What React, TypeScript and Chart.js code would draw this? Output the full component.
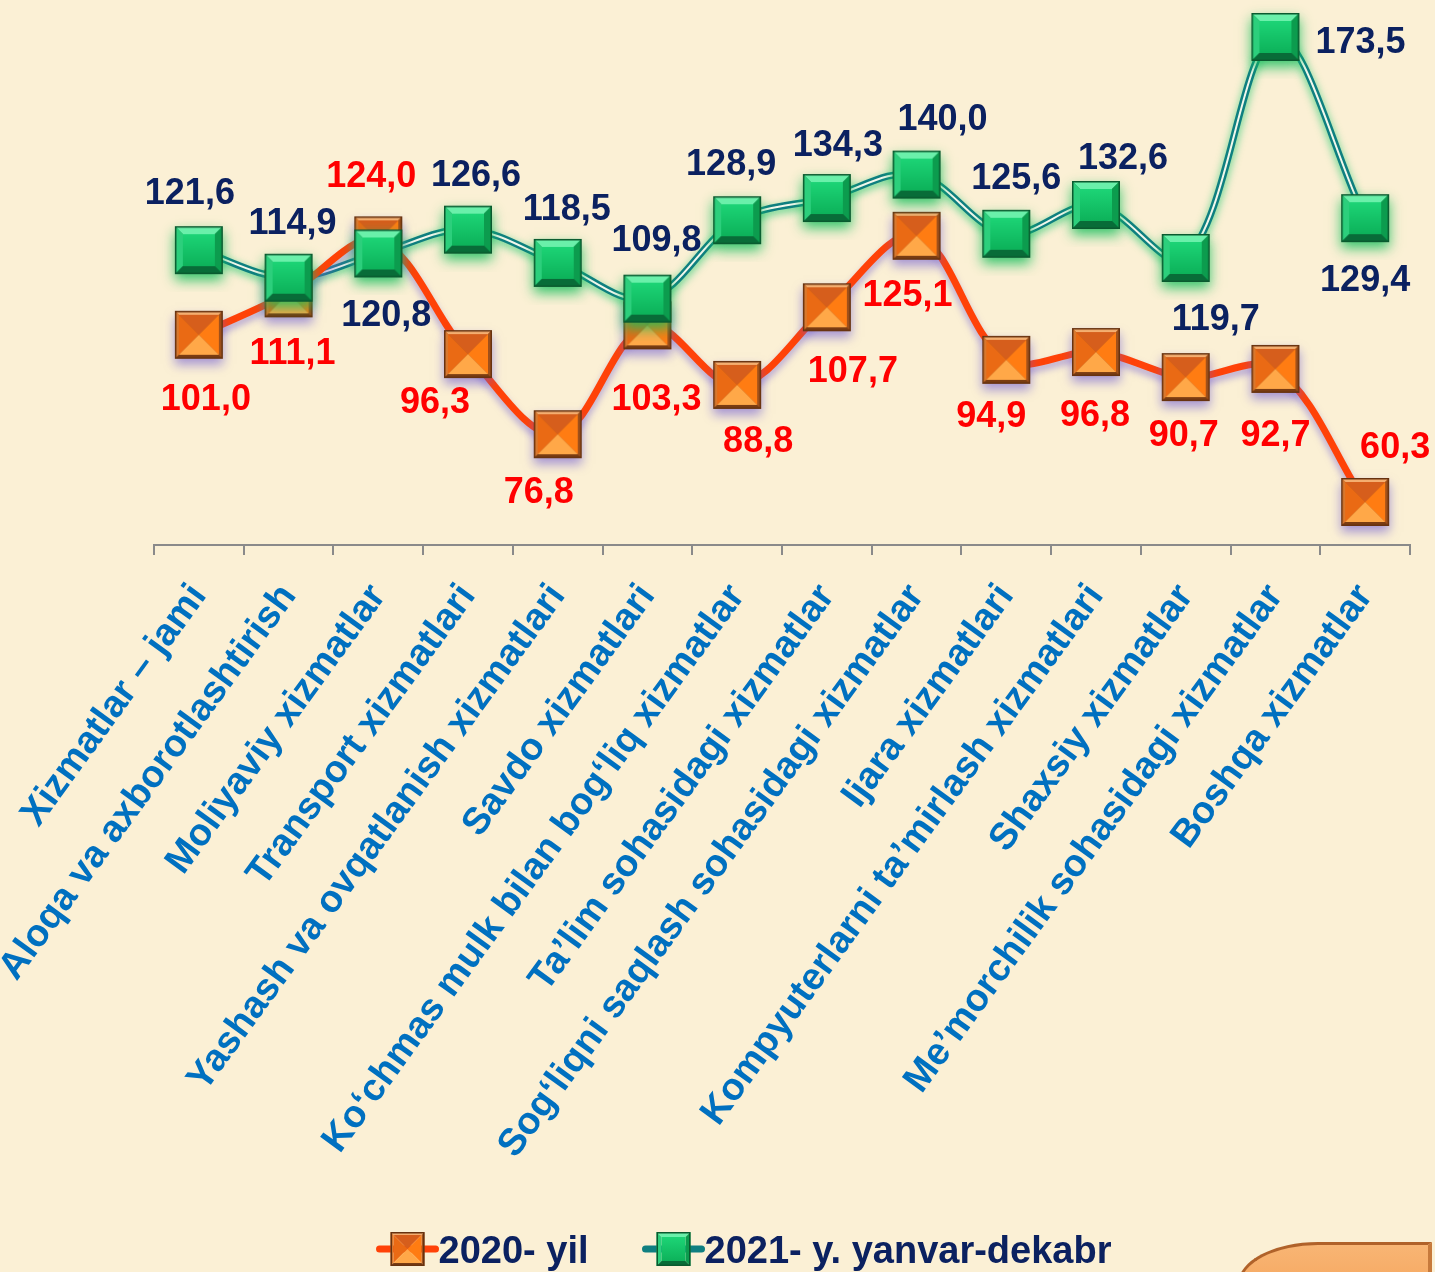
import React, { useEffect, useRef } from "react";
import { Chart, registerables } from "chart.js";
Chart.register(...registerables);

// ---------------- DATA ----------------
const categories = [
  "Xizmatlar – jami",
  "Aloqa va axborotlashtirish",
  "Moliyaviy xizmatlar",
  "Transport xizmatlari",
  "Yashash va ovqatlanish xizmatlari",
  "Savdo xizmatlari",
  "Ko‘chmas mulk bilan bog‘liq xizmatlar",
  "Ta’lim sohasidagi xizmatlar",
  "Sog‘liqni saqlash sohasidagi xizmatlar",
  "Ijara xizmatlari",
  "Kompyuterlarni ta’mirlash xizmatlari",
  "Shaxsiy xizmatlar",
  "Me’morchilik sohasidagi xizmatlar",
  "Boshqa xizmatlar",
];
const values2020 = [101.0, 111.1, 124.0, 96.3, 76.8, 103.3, 88.8, 107.7, 125.1, 94.9, 96.8, 90.7, 92.7, 60.3];
const values2021 = [121.6, 114.9, 120.8, 126.6, 118.5, 109.8, 128.9, 134.3, 140.0, 125.6, 132.6, 119.7, 173.5, 129.4];
const seriesNames = ["2020- yil", "2021- y. yanvar-dekabr"];

// label placement (style): offset of value label centre from the marker centre
const labelOffset2020: [number, number][] = [
  [7, 62], [4, 58], [-7, -66], [-33, 46], [-19, 56], [9, 72], [21, 54],
  [26, 62], [-9, 57], [-15, 54], [-1, 61], [-2, 56], [0, 64], [30, -57],
];
const labelOffset2021: [number, number][] = [
  [-9, -59], [4, -57], [8, 60], [8, -57], [9, -56], [9, -61], [-6, -58],
  [11, -55], [26, -57], [10, -58], [27, -49], [30, 59], [85, 3], [0, 60],
];

const FONT = "'Liberation Sans', Arial, Helvetica, sans-serif";
const BG = "#FBF0D5";
const NAVY = "#0B2160";
const RED = "#FF0000";
const BLUE = "#0070C0";
const ORANGE_LINE = "#FF4208";
const TEAL = "#0F7F80";

const fmt = (v: number) => v.toFixed(1).replace(".", ",");

type Pt = [number, number];

function poly(g: CanvasRenderingContext2D, ox: number, oy: number, pts: Pt[], col: string | CanvasGradient) {
  g.beginPath();
  g.moveTo(ox + pts[0][0], oy + pts[0][1]);
  for (let i = 1; i < pts.length; i++) g.lineTo(ox + pts[i][0], oy + pts[i][1]);
  g.closePath();
  g.fillStyle = col;
  g.fill();
}

function drawGreenSquare(g: CanvasRenderingContext2D, x0: number, y0: number, S: number, glow: boolean) {
  if (glow) {
    g.save();
    g.shadowColor = "rgba(20,190,90,0.85)";
    g.shadowBlur = 12;
    g.shadowOffsetY = 6;
    g.fillStyle = "#0B8A45";
    g.fillRect(x0, y0, S, S);
    g.restore();
  }
  const b = Math.round(S * 0.16);
  poly(g, x0, y0, [[0, 0], [S, 0], [S - b, b], [b, b]], "#6AF0AA");
  poly(g, x0, y0, [[0, 0], [b, b], [b, S - b], [0, S]], "#2CCF7C");
  poly(g, x0, y0, [[S, 0], [S, S], [S - b, S - b], [S - b, b]], "#0C9C4E");
  poly(g, x0, y0, [[0, S], [S, S], [S - b, S - b], [b, S - b]], "#086C38");
  const gr = g.createLinearGradient(0, y0 + b, 0, y0 + S - b);
  gr.addColorStop(0, "#1DD476");
  gr.addColorStop(1, "#0DB25A");
  g.fillStyle = gr;
  g.fillRect(x0 + b, y0 + b, S - 2 * b, S - 2 * b);
  g.strokeStyle = "#0A5A2F";
  g.lineWidth = 1.5;
  g.strokeRect(x0 + 0.75, y0 + 0.75, S - 1.5, S - 1.5);
}

function drawOrangeSquare(g: CanvasRenderingContext2D, x0: number, y0: number, S: number, glow: boolean) {
  if (glow) {
    g.save();
    g.shadowColor = "rgba(110,90,210,0.6)";
    g.shadowBlur = 10;
    g.shadowOffsetY = 6;
    g.fillStyle = "#B0561A";
    g.fillRect(x0, y0, S, S);
    g.restore();
  }
  const b = Math.max(2, Math.round(S * 0.09));
  poly(g, x0, y0, [[0, 0], [S, 0], [S - b, b], [b, b]], "#F4AE70");
  poly(g, x0, y0, [[0, 0], [b, b], [b, S - b], [0, S]], "#D8782E");
  poly(g, x0, y0, [[S, 0], [S, S], [S - b, S - b], [S - b, b]], "#A0501A");
  poly(g, x0, y0, [[0, S], [S, S], [S - b, S - b], [b, S - b]], "#7A3C12");
  const c = S / 2;
  poly(g, x0, y0, [[b, b], [S - b, b], [c, c]], "#D65E1C");
  poly(g, x0, y0, [[b, b], [c, c], [b, S - b]], "#EA6A14");
  poly(g, x0, y0, [[S - b, b], [S - b, S - b], [c, c]], "#FF7C12");
  poly(g, x0, y0, [[b, S - b], [c, c], [S - b, S - b]], "#FFA848");
  g.strokeStyle = "#673210";
  g.lineWidth = 1.5;
  g.strokeRect(x0 + 0.75, y0 + 0.75, S - 1.5, S - 1.5);
}

function makeMarker(kind: "green" | "orange", S: number) {
  const pad = 18;
  const c = document.createElement("canvas");
  c.width = S + pad * 2;
  c.height = S + pad * 2;
  const g = c.getContext("2d")!;
  if (kind === "green") drawGreenSquare(g, pad, pad, S, true);
  else drawOrangeSquare(g, pad, pad, S, true);
  return c;
}

export default function App() {
  const ref = useRef<HTMLCanvasElement | null>(null);

  useEffect(() => {
    const canvas = ref.current;
    if (!canvas) return;
    const greenMarker = makeMarker("green", 48);
    const orangeMarker = makeMarker("orange", 48);

    const effects: Record<string, { color: string; blur: number; dy: number }> = {
      tealOuter: { color: "rgba(30,200,110,0.75)", blur: 9, dy: 3 },
      orangeLine: { color: "rgba(120,100,210,0.55)", blur: 7, dy: 5 },
    };

    const shadowPlugin = {
      id: "shadowPlugin",
      beforeDatasetDraw(chart: any, args: any) {
        const key = chart.data.datasets[args.index].fxKey;
        const e = key && effects[key];
        const ctx = chart.ctx;
        ctx.save();
        if (e) {
          ctx.shadowColor = e.color;
          ctx.shadowBlur = e.blur;
          ctx.shadowOffsetY = e.dy;
        }
      },
      afterDatasetDraw(chart: any) {
        chart.ctx.restore();
      },
    };

    const labelPlugin = {
      id: "valueLabels",
      afterDatasetsDraw(chart: any) {
        const ctx = chart.ctx;
        const fs = 36;
        ctx.save();
        ctx.font = `bold ${fs}px ${FONT}`;
        ctx.textAlign = "center";
        ctx.textBaseline = "alphabetic";
        chart.data.datasets.forEach((ds: any, di: number) => {
          if (!ds.labelKind) return;
          const meta = chart.getDatasetMeta(di);
          const offs = ds.labelKind === "2020" ? labelOffset2020 : labelOffset2021;
          ctx.fillStyle = ds.labelKind === "2020" ? RED : NAVY;
          meta.data.forEach((pt: any, i: number) => {
            const [dx, dy] = offs[i];
            ctx.fillText(fmt(ds.data[i]), pt.x + dx, pt.y + dy + fs * 0.358);
          });
        });
        ctx.restore();
      },
    };

    const legendPlugin = {
      id: "customLegend",
      afterDraw(chart: any) {
        const ctx = chart.ctx;
        const fs = 38;
        ctx.save();
        ctx.font = `bold ${fs}px ${FONT}`;
        const iconW = 62;
        const gap = 54;
        const w1 = ctx.measureText(seriesNames[0]).width;
        const w2 = ctx.measureText(seriesNames[1]).width;
        const total = iconW + w1 + gap + iconW + w2;
        const cx = 744;
        const cy = 1249;
        let x = cx - total / 2;
        const drawItem = (kind: "orange" | "green", text: string, tw: number) => {
          ctx.lineCap = "round";
          ctx.strokeStyle = kind === "orange" ? ORANGE_LINE : TEAL;
          ctx.lineWidth = 7;
          ctx.beginPath();
          ctx.moveTo(x + 3, cy);
          ctx.lineTo(x + iconW - 3, cy);
          ctx.stroke();
          const S = 34;
          const mx = x + iconW / 2 - S / 2;
          const my = cy - S / 2;
          if (kind === "orange") drawOrangeSquare(ctx, mx, my, S, false);
          else drawGreenSquare(ctx, mx, my, S, false);
          ctx.fillStyle = NAVY;
          ctx.textAlign = "left";
          ctx.textBaseline = "alphabetic";
          ctx.fillText(text, x + iconW, cy + fs * 0.358);
          x += iconW + tw;
        };
        drawItem("orange", seriesNames[0], w1);
        x += gap;
        drawItem("green", seriesNames[1], w2);
        ctx.restore();
      },
    };

    const chart = new Chart(canvas, {
      type: "line",
      data: {
        labels: categories,
        datasets: [
          {
            label: seriesNames[1] + " markers",
            data: values2021,
            showLine: false,
            pointStyle: greenMarker as any,
            pointRadius: 24,
            pointHoverRadius: 24,
            order: 0,
            clip: false,
            labelKind: "2021",
          } as any,
          {
            label: seriesNames[0] + " markers",
            data: values2020,
            showLine: false,
            pointStyle: orangeMarker as any,
            pointRadius: 24,
            pointHoverRadius: 24,
            order: 1,
            clip: false,
            labelKind: "2020",
          } as any,
          {
            label: seriesNames[0],
            data: values2020,
            borderColor: ORANGE_LINE,
            borderWidth: 7,
            tension: 0.35,
            pointRadius: 0,
            order: 2,
            clip: false,
            fxKey: "orangeLine",
            borderCapStyle: "round",
          } as any,
          {
            label: seriesNames[1] + " inner",
            data: values2021,
            borderColor: "#F2F8EC",
            borderWidth: 2,
            tension: 0.35,
            pointRadius: 0,
            order: 3,
            clip: false,
          } as any,
          {
            label: seriesNames[1],
            data: values2021,
            borderColor: TEAL,
            borderWidth: 7,
            tension: 0.35,
            pointRadius: 0,
            order: 4,
            clip: false,
            fxKey: "tealOuter",
          } as any,
        ],
      },
      options: {
        responsive: false,
        animation: false,
        events: [],
        layout: { autoPadding: false, padding: { left: 154, right: 25, top: 10, bottom: 0 } },
        plugins: {
          legend: { display: false },
          tooltip: { enabled: false },
          title: { display: false },
        },
        scales: {
          x: {
            type: "category",
            offset: true,
            grid: {
              offset: true,
              drawOnChartArea: false,
              drawTicks: true,
              tickLength: 10,
              color: "#8A8A8A",
              lineWidth: 2,
            },
            border: { display: true, color: "#8A8A8A", width: 2 },
            ticks: {
              autoSkip: false,
              maxRotation: 54,
              minRotation: 54,
              padding: 21,
              color: BLUE,
              font: { family: FONT, size: 38, weight: "bold" },
            },
            afterFit(scale: any) {
              scale.height = 1272 - 545;
            },
          },
          y: {
            display: false,
            min: 49.83,
            max: 180.07,
          },
        },
      } as any,
      plugins: [shadowPlugin, labelPlugin, legendPlugin],
    });
    return () => chart.destroy();
  }, []);

  return (
    <div
      style={{
        position: "absolute",
        left: 0,
        top: 0,
        width: 1435,
        height: 1272,
        overflow: "hidden",
        background: BG,
      }}
    >
      <div
        style={{
          position: "absolute",
          left: 1238,
          top: 1242,
          width: 194,
          height: 80,
          borderTopLeftRadius: "80px 42px",
          background: "linear-gradient(#F8B574, #F49E52)",
          borderTop: "3px solid #B0622A",
          borderLeft: "3px solid #B0622A",
          borderRight: "4px solid #C77A3C",
          boxSizing: "border-box",
        }}
      />
      <canvas ref={ref} width={1435} height={1272} style={{ position: "absolute", left: 0, top: 0, width: 1435, height: 1272 }} />
    </div>
  );
}
